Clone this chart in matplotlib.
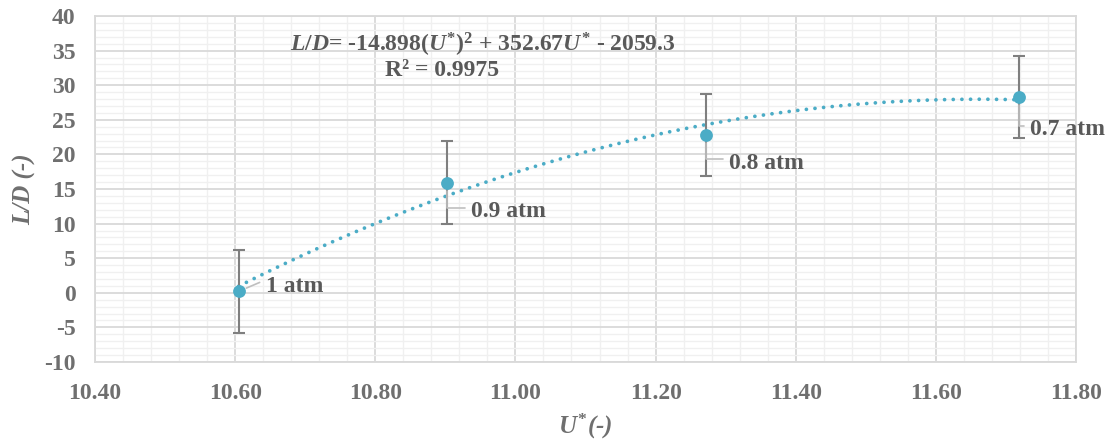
import matplotlib.pyplot as plt
from matplotlib.ticker import MultipleLocator, FormatStrFormatter
import numpy as np

# Data
u_star = [10.605, 10.903, 11.272, 11.719]
l_d = [0.2, 15.9, 22.8, 28.3]
l_d_err = [6.0, 6.0, 5.9, 5.9]
labels = ['1 atm', '0.9 atm', '0.8 atm', '0.7 atm']
label_offsets = [(27, 5), (24, -29), (23, -28), (11, -33)]  # pixels

plt.rcParams['font.family'] = ['Liberation Serif', 'DejaVu Serif']
plt.rcParams['axes.unicode_minus'] = False
plt.rcParams['mathtext.fontset'] = 'custom'
plt.rcParams['mathtext.rm'] = 'Liberation Serif:bold'
plt.rcParams['mathtext.it'] = 'Liberation Serif:italic:bold'
plt.rcParams['mathtext.bf'] = 'Liberation Serif:bold'
txt_col = '#595959'
tick_col = '#6f6f6f'
pt_col = '#4BACC6'

fig = plt.figure(figsize=(11.13, 4.45), dpi=100)
ax = fig.add_axes([95 / 1113, 1 - 362 / 445, (1076 - 95) / 1113, (362 - 16) / 445])

# trendline (2nd order polynomial)
coef = np.polyfit(u_star, l_d, 2)
xs = np.linspace(u_star[0], u_star[-1], 400)
ax.plot(xs, np.polyval(coef, xs), color=pt_col, linestyle=(0, (0.01, 2.3)), linewidth=2.7,
        dash_capstyle='round', zorder=3)

ax.errorbar(u_star, l_d, yerr=l_d_err, fmt='none', ecolor='#7f7f7f', elinewidth=1.5,
            capsize=4.5, capthick=1.5, zorder=4)
ax.scatter(u_star, l_d, s=85, color=pt_col, zorder=5, linewidths=0)

for x, y, lab, off in zip(u_star, l_d, labels, label_offsets):
    ax.annotate(lab, xy=(x, y), xytext=off, textcoords='offset pixels',
                ha='left', va='center', fontsize=17, fontweight='bold', color=txt_col,
                zorder=6)
    if off[1] < 0:
        # leader line: down from the point, then right to the label
        ax.annotate('', xy=(x, y), xytext=(off[0] - 6, off[1] + 4), textcoords='offset pixels',
                    arrowprops=dict(arrowstyle='-', color='#bfbfbf', lw=1.2,
                                    connectionstyle='angle,angleA=0,angleB=90',
                                    shrinkA=0, shrinkB=6), zorder=4)
    else:
        ax.annotate('', xy=(x, y), xytext=(off[0] - 6, off[1] + 4), textcoords='offset pixels',
                    arrowprops=dict(arrowstyle='-', color='#bfbfbf', lw=1.2,
                                    shrinkA=0, shrinkB=6), zorder=4)

ax.set_xlim(10.40, 11.80)
ax.set_ylim(-10, 40)
ax.xaxis.set_major_locator(MultipleLocator(0.2))
ax.xaxis.set_minor_locator(MultipleLocator(0.04))
ax.yaxis.set_major_locator(MultipleLocator(5))
ax.yaxis.set_minor_locator(MultipleLocator(1))
ax.xaxis.set_major_formatter(FormatStrFormatter('%.2f'))

ax.grid(True, which='major', color='#d9d9d9', linewidth=1.3)
ax.grid(True, which='minor', color='#f0f0f0', linewidth=1.0)
ax.set_axisbelow(True)
for s in ax.spines.values():
    s.set_color('#d9d9d9')
    s.set_linewidth(1.3)
ax.tick_params(which='both', length=0, labelsize=17, labelcolor=tick_col)
ax.tick_params(axis='x', pad=15)
ax.tick_params(axis='y', pad=14)
for t in ax.get_xticklabels() + ax.get_yticklabels():
    t.set_fontweight('bold')

ax.set_xlabel('$U^{*}$(-)', fontsize=18, fontstyle='italic',
              fontweight='bold', color=tick_col, labelpad=6)
ax.set_ylabel('L/D (-)', fontsize=18, fontstyle='italic', fontweight='bold', color=tick_col,
              labelpad=6)

fig.text(290 / 1113, 1 - 45 / 445, '$L/D$= -14.898($U^{*}$)$^{2}$ + 352.67$U^{*}$ - 2059.3',
         fontsize=17, fontweight='bold', color=txt_col, va='center', ha='left')
fig.text(385 / 1113, 1 - 70 / 445, 'R² = 0.9975', fontsize=17, fontweight='bold',
         color=txt_col, va='center', ha='left')

fig.savefig('out.png', dpi=100)
